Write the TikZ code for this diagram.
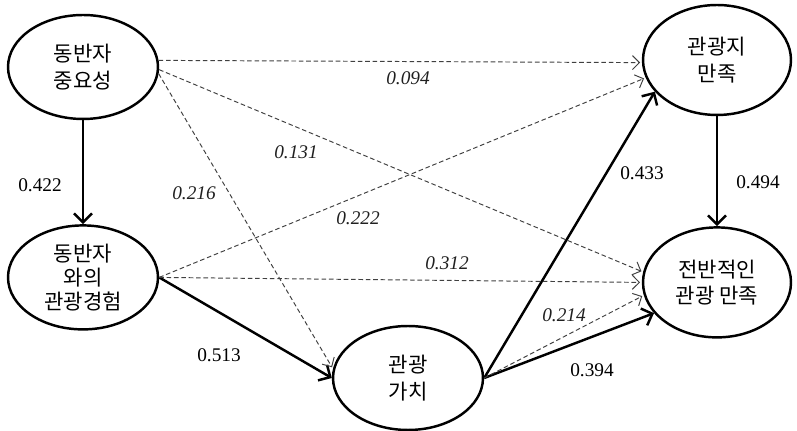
\documentclass[tikz,border=0pt]{standalone}
\usepackage{fontspec}
\setmainfont{Liberation Serif}
\newfontfamily\kor{Noto Sans CJK KR}
\usetikzlibrary{positioning, arrows.meta, shapes.geometric}
\tikzset{
  > = {Straight Barb[length = 1.8mm, width = 3.6mm]},   % open V heads
  construct/.style = {draw, ellipse, line width = 1.4pt, align = center,
    inner sep = 0pt, minimum width = 3cm, minimum height = 2.08cm,
    font = \kor\fontsize{12}{15}\selectfont},
  outcome/.style = {construct, minimum width = 2.96cm, minimum height = 2.2cm},
  direct/.style = {->, line width = 1.4pt},
  indirect/.style = {-{Straight Barb[length = 1.4mm, width = 2.8mm]},
    gray!50!black, line width = 0.55pt, shorten > = 1pt,
    dash pattern = on 2.6pt off 1.6pt},
  coef/.style = {inner sep = 1pt, font = \fontsize{11}{13}\selectfont},
  nscoef/.style = {coef, text = gray!25!black,
    font = \itshape\fontsize{11}{13}\selectfont}
}

\begin{document}
\begin{tikzpicture}[x = 0.02cm, y = -0.02cm]
\useasboundingbox (0,0) rectangle (797,431);

%% Constructs
\node [construct] (imp) at (83,67) {동반자\\중요성};
\node [construct, font = \kor\fontsize{12}{13.5}\selectfont]
  (exp) [below = 2.08cm of imp] {동반자\\와의\\관광경험};
\node [construct] (val) at (408,378) {관광\\가치};
\node [outcome] (dest) at (717,60) {관광지\\만족};
\node [outcome] (tot) [below = 2.2cm of dest] {전반적인\\관광 만족};

%% Significant paths
\draw [direct] (imp.south) -- (exp.north);
\draw [direct] (exp.east) -- (val.180);
\draw [direct] (val.east) -- (dest.207);
\draw [direct] (dest.south) -- (tot.north);
\draw [direct] (val.east) -- (tot.206);

%% Non-significant paths
\draw [indirect] (imp.5) -- (dest.182);
\draw [indirect] (imp.358) -- (tot.172);
\draw [indirect] (imp.355) -- (val.173);
\draw [indirect] (exp.east) -- (dest.194);
\draw [indirect] (exp.east) -- (tot.180);
\draw [indirect] (val.east) -- (tot.190);

%% Coefficients
\node [coef] (c1) at (40,185) {0.422};
\node [coef] (c2) at (219,355) {0.513};
\node [coef] (c3) at (642,173) {0.433};
\node [coef] (c4) at (758,182) {0.494};
\node [coef] (c5) at (592,370) {0.394};
\node [nscoef] (n1) at (408,78) {0.094};
\node [nscoef] (n2) at (296,152) {0.131};
\node [nscoef] (n3) at (194,193) {0.216};
\node [nscoef] (n4) at (358,218) {0.222};
\node [nscoef] (n5) at (447,263) {0.312};
\node [nscoef] (n6) at (564,315) {0.214};

\end{tikzpicture}
\end{document}
